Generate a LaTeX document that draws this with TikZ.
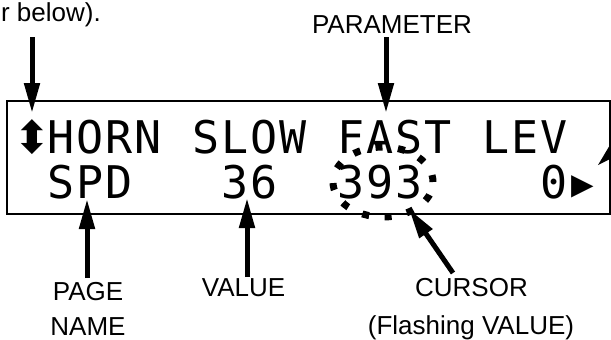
\documentclass[tikz,border=0pt]{standalone}
\usepackage{fontspec}
\setmainfont{Liberation Sans}
\newfontfamily\lcdfont{DejaVu Sans Mono}
\newfontfamily\lcdsym{DejaVu Sans}
\usetikzlibrary{arrows.meta}
\tikzset{
  lbltext/.style={inner sep=0pt,anchor=base,font=\fontsize{26}{30}\selectfont},
  lcdchar/.style={inner sep=0pt,anchor=base,font=\lcdfont\fontsize{45}{45}\selectfont},
  callout/.style={line width=5pt,-{Triangle[length=30pt,width=15pt]}}
}
\begin{document}
\begin{tikzpicture}[x=1pt,y=-1pt]
\useasboundingbox (0,0) rectangle (611,340);
\clip (0,0) rectangle (611,340);
% display window
\draw[line width=2.5pt] (7,101) rectangle (610,214);
\foreach \ch [count=\i from 0] in {{\lcdsym ⬍},H,O,R,N,,S,L,O,W,,F,A,S,T,,L,E,V}
  \node[lcdchar] (top\i) at (32+29*\i,153) {\ch};
\foreach \ch [count=\i from 0] in {,S,P,D,,,,3,6,,,3,9,3,,,,,0,{\lcdsym ▸}}
  \node[lcdchar] (bot\i) at (32+29*\i,198) {\ch};
% flashing cursor
\draw[line width=7pt,dash pattern=on 7pt off 15.6pt] (383,182) ellipse [x radius=50pt,y radius=35pt];
% labels
\node[lbltext,anchor=base east] (prevtext) at (101,21) {r below).};
\node[lbltext] (paramlbl) at (392,33) {PARAMETER};
\node[lbltext] (pagelbl) at (88,300) {PAGE};
\node[lbltext] (namelbl) at (88,335) {NAME};
\node[lbltext] (valuelbl) at (243.5,296) {VALUE};
\node[lbltext] (cursorlbl) at (471.5,296) {CURSOR};
\node[lbltext] (flashlbl) at (471,334) {(Flashing VALUE)};
% arrows
\coordinate (scrolltail) at (32,37);
\coordinate (scrolltip) at (32,113);
\coordinate (paramtail) at (386,37);
\coordinate (paramtip) at (386,113);
\coordinate (pagetail) at (87,278);
\coordinate (pagetip) at (87,199);
\coordinate (valuetail) at (247,277);
\coordinate (valuetip) at (247,198);
\coordinate (cursortail) at (453,273);
\coordinate (cursortip) at (409,209);
\coordinate (moretail) at (657,110);
\coordinate (moretip) at (597,166);
\draw[callout] (scrolltail) -- (scrolltip);
\draw[callout] (paramtail) -- (paramtip);
\draw[callout] (pagetail) -- (pagetip);
\draw[callout] (valuetail) -- (valuetip);
\draw[callout] (cursortail) -- (cursortip);
\draw[callout] (moretail) -- (moretip);
\end{tikzpicture}
\end{document}
